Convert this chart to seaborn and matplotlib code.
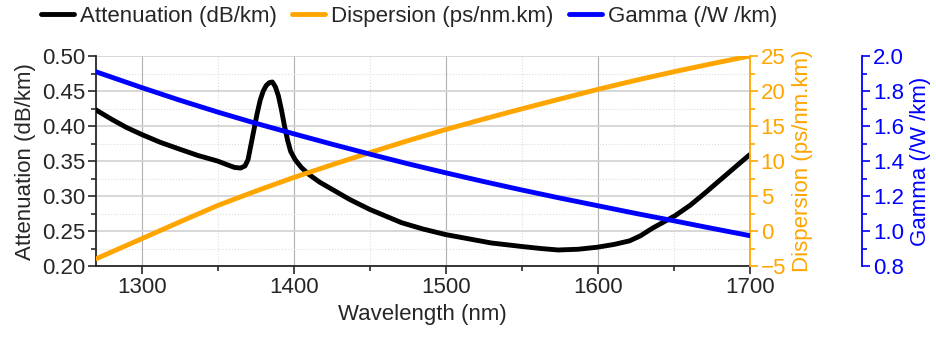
import numpy as np
import pandas as pd
import seaborn as sns
import matplotlib.pyplot as plt
from matplotlib.ticker import MultipleLocator

# attenuation curve (dense around the water peak)
wl_att = [1270, 1280, 1290, 1300, 1312, 1325, 1337, 1350, 1356, 1361, 1365, 1368,
          1370, 1373, 1376, 1378, 1380, 1382, 1384, 1386, 1388, 1390, 1392, 1394,
          1396, 1398, 1401, 1405, 1410, 1417, 1425, 1437, 1450, 1471, 1485, 1500,
          1515, 1530, 1550, 1563, 1574, 1587, 1600, 1611, 1621, 1628, 1636, 1651,
          1661, 1671, 1686, 1700]
att = [0.423, 0.410, 0.398, 0.388, 0.377, 0.367, 0.358, 0.350, 0.345, 0.341, 0.340, 0.343,
       0.352, 0.385, 0.418, 0.437, 0.450, 0.458, 0.462, 0.463, 0.456, 0.443, 0.423, 0.400,
       0.380, 0.364, 0.352, 0.341, 0.331, 0.320, 0.310, 0.295, 0.281, 0.262, 0.253, 0.245,
       0.239, 0.233, 0.228, 0.225, 0.223, 0.224, 0.227, 0.231, 0.236, 0.243, 0.254, 0.272,
       0.287, 0.305, 0.333, 0.359]

wl = [1270, 1300, 1325, 1350, 1375, 1400, 1425, 1450, 1475, 1500, 1525, 1550, 1575,
      1600, 1625, 1650, 1675, 1700]
disp = [-3.96, -1.1, 1.3, 3.65, 5.7, 7.65, 9.45, 11.2, 12.9, 14.5, 16.0, 17.45, 18.85,
        20.23, 21.53, 22.75, 23.9, 25.0]
gamma = [1.91, 1.82, 1.748, 1.680, 1.616, 1.556, 1.497, 1.440, 1.385, 1.333, 1.283, 1.235,
         1.189, 1.145, 1.101, 1.059, 1.016, 0.974]

sns.set_style('white')
plt.rcParams['font.family'] = ['Liberation Sans', 'DejaVu Sans']
plt.rcParams['font.size'] = 16

orange = '#FFA500'
blue = '#0000FF'

fig, ax = plt.subplots(figsize=(9.37, 3.46), dpi=100)
fig.subplots_adjust(left=0.1025, right=0.800, top=0.838, bottom=0.231)
ax2 = ax.twinx()
ax3 = ax.twinx()
ax3.spines['right'].set_position(('outward', 81))

sns.lineplot(x=wl_att, y=att, ax=ax, color='black', lw=3.5, label='Attenuation (dB/km)', zorder=4)
sns.lineplot(x=wl, y=disp, ax=ax2, color=orange, lw=3.5, label='Dispersion (ps/nm.km)')
sns.lineplot(x=wl, y=gamma, ax=ax3, color=blue, lw=3.5, label='Gamma (/W /km)')

ax.set_xlim(1270, 1700)
ax.set_ylim(0.20, 0.50)
ax2.set_ylim(-5, 25)
ax3.set_ylim(0.8, 2.0)

ax.xaxis.set_major_locator(MultipleLocator(100))
ax.xaxis.set_minor_locator(MultipleLocator(50))
ax.yaxis.set_major_locator(MultipleLocator(0.05))
ax.yaxis.set_minor_locator(MultipleLocator(0.025))
ax.yaxis.set_major_formatter(plt.FormatStrFormatter('%.2f'))
ax2.yaxis.set_major_locator(MultipleLocator(5))
ax2.yaxis.set_minor_locator(MultipleLocator(2.5))
ax3.yaxis.set_major_locator(MultipleLocator(0.2))
ax3.yaxis.set_minor_locator(MultipleLocator(0.1))
ax3.yaxis.set_major_formatter(plt.FormatStrFormatter('%.1f'))

# grid
ax.grid(True, which='major', axis='y', color='#d4d4d4', lw=1.3, ls='-')
ax.grid(True, which='major', axis='x', color='#b0b0b0', lw=0.8, ls='-')
ax.grid(True, which='minor', color='#dddddd', lw=0.8, ls=':')
ax.set_axisbelow(True)

for a in (ax, ax2, ax3):
    a.spines['top'].set_visible(False)
    a.tick_params(which='major', direction='out', length=6, width=1.2, pad=2)
    a.tick_params(which='minor', direction='out', length=3.5, width=1.2)
    a.get_legend().remove()

ax.spines['left'].set_linewidth(1.3)
ax.spines['bottom'].set_linewidth(1.3)
ax.spines['right'].set_visible(False)
ax.tick_params(which='both', left=True, bottom=True)

ax2.spines['left'].set_visible(False)
ax2.spines['bottom'].set_visible(False)
ax2.spines['right'].set_color(orange)
ax2.spines['right'].set_linewidth(1.3)
ax2.tick_params(which='both', axis='y', colors=orange)

ax3.spines['left'].set_visible(False)
ax3.spines['bottom'].set_visible(False)
ax3.spines['right'].set_color(blue)
ax3.spines['right'].set_linewidth(1.3)
ax3.tick_params(which='both', axis='y', colors=blue)

ax.set_xlabel('Wavelength (nm)', labelpad=4)
ax.set_ylabel('Attenuation (dB/km)', labelpad=4)
ax2.set_ylabel('Dispersion (ps/nm.km)', color=orange, labelpad=4)
ax3.set_ylabel('Gamma (/W /km)', color=blue, labelpad=4)

handles = [ax.get_lines()[0], ax2.get_lines()[0], ax3.get_lines()[0]]
labels = ['Attenuation (dB/km)', 'Dispersion (ps/nm.km)', 'Gamma (/W /km)']
fig.legend(handles, labels, loc='upper left', bbox_to_anchor=(0.022, 1.04), ncol=3,
           frameon=False, handlelength=1.5, handletextpad=0.25, columnspacing=0.7)

fig.savefig('out.png', dpi=100)
